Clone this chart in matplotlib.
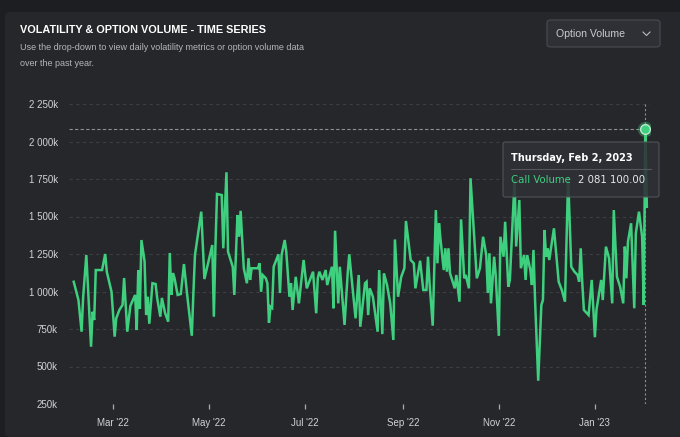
import pandas as pd
import matplotlib.pyplot as plt
from matplotlib.patches import FancyBboxPatch
from matplotlib.lines import Line2D
from matplotlib.ticker import FuncFormatter

# day of year (2022 based, >365 runs into 2023) and call volume in thousands
day_of_year = [
    35, 38, 40, 41, 43, 46, 47, 48, 49, 53, 55, 56, 59, 61, 62, 64, 66, 67, 69, 71,
    74, 75, 76, 77, 78, 80, 81, 82, 83, 85, 87, 88, 90, 91, 93, 95, 96, 97, 98, 99,
    101, 103, 105, 107, 110, 111, 112, 116, 118, 123, 124, 125, 126, 129, 130, 132, 133, 136, 137, 139,
    140, 141, 143, 145, 146, 147, 148, 152, 153, 154, 155, 157, 158, 159, 160, 161, 162, 165, 166, 167,
    169, 170, 172, 173, 174, 176, 178, 181, 183, 187, 189, 190, 191, 193, 195, 196, 199, 200, 201, 203,
    204, 207, 209, 210, 214, 216, 217, 220, 221, 222, 223, 225, 228, 229, 231, 232, 234, 236, 238, 239,
    241, 243, 245, 246, 249, 251, 252, 255, 257, 259, 260, 261, 263, 265, 266, 267, 268, 270, 271, 272,
    273, 274, 277, 278, 280, 281, 283, 284, 286, 287, 291, 293, 295, 297, 298, 299, 300, 302, 303, 305,
    306, 308, 309, 311, 312, 315, 316, 318, 319, 321, 322, 323, 325, 326, 327, 328, 330, 332, 333, 334,
    335, 336, 337, 340, 343, 345, 347, 349, 351, 353, 355, 356, 357, 358, 359, 362, 364, 366, 367, 370,
    371, 373, 375, 377, 378, 380, 382, 384, 385, 386, 387, 389, 391, 392, 394, 396, 397, 398, 399,
]
call_volume_k = [
    1065, 943, 732, 965, 1243, 632, 865, 810, 1143, 1143, 1250, 1132, 998, 699, 821, 877, 910, 1090, 732, 905,
    977, 743, 1143, 885, 1343, 1200, 843, 965, 785, 1055, 1050, 957, 832, 957, 857, 799, 1257, 977, 1123, 1090,
    977, 983, 1183, 983, 705, 990, 1243, 1532, 1083, 1310, 832, 1300, 1650, 1643, 1288, 1795, 1265, 1165, 977, 1510,
    1365, 1538, 1155, 1055, 1222, 1077, 1155, 1155, 1188, 998, 1110, 1088, 1055, 792, 899, 890, 1165, 1248, 990, 1243,
    1343, 1265, 965, 1055, 877, 1098, 921, 1210, 1021, 1132, 855, 1088, 1132, 1077, 1143, 1043, 1165, 888, 1405, 921,
    1165, 777, 1121, 1248, 821, 1110, 765, 1055, 1065, 843, 1021, 965, 732, 1143, 716, 1121, 1043, 921, 677, 1347,
    965, 1098, 1155, 1470, 1210, 1188, 1021, 1205, 1010, 1010, 1232, 1055, 772, 1543, 1188, 1455, 1343, 1143, 1288, 1132,
    1288, 1121, 1021, 1110, 932, 1481, 1088, 1110, 1021, 1755, 1088, 1155, 1365, 1243, 990, 1255, 921, 1232, 1110, 704,
    1365, 1232, 1465, 1032, 1077, 1750, 1300, 1610, 1155, 1243, 1077, 1243, 1143, 1043, 1277, 943, 405, 910, 943, 1410,
    1232, 1288, 1210, 1421, 1065, 1010, 932, 1760, 1165, 1132, 1110, 1065, 1288, 1055, 877, 843, 1077, 695, 877, 1077,
    943, 1299, 1222, 921, 1543, 1098, 1032, 921, 1299, 1088, 1332, 1455, 888, 1388, 1532, 1365, 910, 2081.1, 1565,
]

y_ticks = [250, 500, 750, 1000, 1250, 1500, 1750, 2000, 2250]
x_ticks = ['2022-03-01', '2022-05-01', '2022-07-01', '2022-09-01', '2022-11-01', '2023-01-01']
hover_date = '2023-02-02'
hover_value = 2081.1

dates = pd.Timestamp('2022-01-01') + pd.to_timedelta([d - 1 for d in day_of_year], unit='D')

W, H = 680, 437
def fx(px):
    return px / W
def fy(py):
    return 1 - py / H

green = '#3ecf7f'
sans = 'Liberation Sans'
fig = plt.figure(figsize=(6.8, 4.37), dpi=100)
fig.patch.set_facecolor('#1d1e21')

# card background
fig.patches.append(FancyBboxPatch((fx(5), 0), fx(680), fy(12), boxstyle='round,pad=0,rounding_size=0.01',
                                  transform=fig.transFigure, facecolor='#26272b', edgecolor='none', zorder=-5))

fig.text(fx(20), fy(30), 'VOLATILITY & OPTION VOLUME - TIME SERIES', color='white', fontsize=7.8,
         fontweight='bold', family=sans, va='center', ha='left')
fig.text(fx(20), fy(47), 'Use the drop-down to view daily volatility metrics or option volume data',
         color='#b4b6ba', fontsize=6.5, family=sans, va='center', ha='left')
fig.text(fx(20), fy(63), 'over the past year.',
         color='#b4b6ba', fontsize=6.5, family=sans, va='center', ha='left')

# drop-down box
fig.patches.append(FancyBboxPatch((fx(547), fy(47)), fx(113), 27 / H, boxstyle='round,pad=0,rounding_size=0.006',
                                  transform=fig.transFigure, facecolor='#2e3035', edgecolor='#4a4c51', lw=0.8))
fig.text(fx(556), fy(34), 'Option Volume', color='#c9cbce', fontsize=7.6, family=sans,
         va='center', ha='left')
fig.add_artist(Line2D([fx(643), fx(646.5), fx(650)], [fy(32), fy(35.5), fy(32)], transform=fig.transFigure,
                      color='#b8babd', lw=0.8))

ax = fig.add_axes([fx(69), 1 - 404 / H, fx(650) - fx(69), 300 / H])
ax.set_facecolor('none')
for s in ax.spines.values():
    s.set_visible(False)

ax.plot(dates, call_volume_k, color=green, lw=1.8, solid_joinstyle='miter', zorder=3)

ax.set_ylim(250, 2250)
ax.set_yticks(y_ticks)
ax.yaxis.set_major_formatter(FuncFormatter(lambda v, p: f'{int(v):,}'.replace(',', ' ') + 'k'))
ax.set_xlim(pd.Timestamp('2022-02-01'), pd.Timestamp('2023-02-05'))
ax.set_xticks(pd.to_datetime(x_ticks))
ax.set_xticklabels([pd.Timestamp(t).strftime("%b '%y") for t in x_ticks])
ax.grid(axis='y', color='#3c3e43', linestyle=(0, (3, 3)), lw=0.8)
ax.tick_params(axis='y', length=0, pad=8, labelcolor='#d0d2d5', labelsize=7)
ax.tick_params(axis='x', length=3.6, width=0.9, color='#a9abae', pad=6.5, labelcolor='#d0d2d5', labelsize=7)
for lab in ax.get_xticklabels() + ax.get_yticklabels():
    lab.set_family(sans)

# crosshair + hovered point
hd = pd.Timestamp(hover_date)
ax.hlines(hover_value, ax.get_xlim()[0], hd, color='#8d8f93', lw=0.8, linestyle=(0, (3, 2)), zorder=2)
ax.axvline(hd, color='#8d8f93', lw=0.8, linestyle=(0, (2, 2)), zorder=2)
ax.plot([hd], [hover_value], 'o', ms=11, color=green, alpha=0.35, mec='none', zorder=4)
ax.plot([hd], [hover_value], 'o', ms=7, color=green, mec='#bfe9cf', mew=1.0, zorder=5)

# tooltip
fig.patches.append(FancyBboxPatch((fx(503), fy(197)), fx(156), 55 / H, boxstyle='round,pad=0,rounding_size=0.004',
                                  transform=fig.transFigure, facecolor='#2f3136', edgecolor='#55575c', lw=0.8,
                                  alpha=0.88, zorder=10))
fig.text(fx(511), fy(158), 'Thursday, Feb 2, 2023', color='white', fontsize=7.0, fontweight='bold',
         family='DejaVu Sans', va='center', ha='left', zorder=11)
fig.add_artist(Line2D([fx(511), fx(651)], [fy(169), fy(169)], transform=fig.transFigure, color='#55575c',
                      lw=0.8, zorder=11))
fig.text(fx(511), fy(180), 'Call Volume', color=green, fontsize=7.3, family='DejaVu Sans', va='center',
         ha='left', zorder=11)
fig.text(fx(578), fy(180), f'{hover_value * 1000:,.2f}'.replace(',', ' '), color='#e8e9ea', fontsize=7.3,
         family='DejaVu Sans', va='center', ha='left', zorder=11)

fig.savefig('out.png', dpi=100, facecolor=fig.get_facecolor())
